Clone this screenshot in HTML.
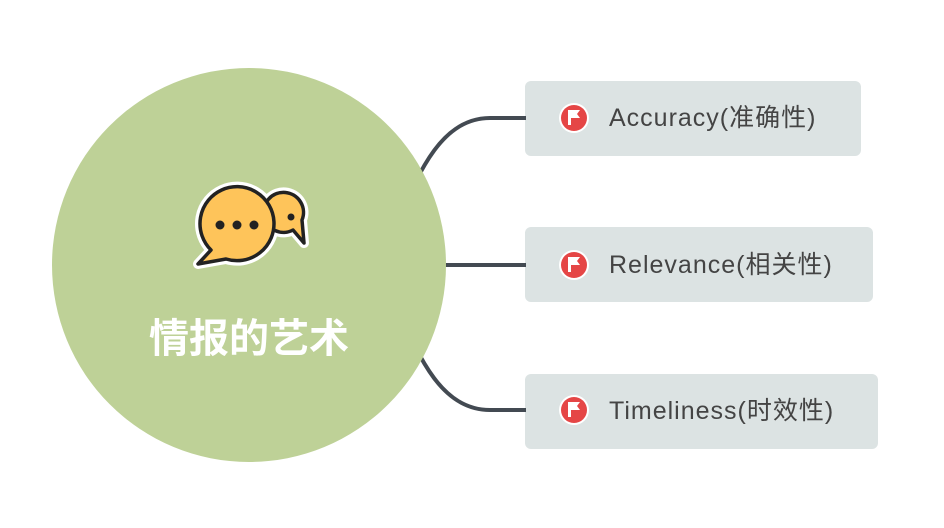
<!DOCTYPE html>
<html><head><meta charset="utf-8"><style>
html,body{margin:0;padding:0;background:#fff;}
body{width:944px;height:528px;position:relative;overflow:hidden;font-family:"Liberation Sans","Noto Sans CJK SC",sans-serif;}
.box{position:absolute;left:525px;height:75px;background:#dce3e3;border-radius:6px;}
.lbl{position:absolute;left:609px;font-size:25px;letter-spacing:1px;color:#444;line-height:30px;white-space:nowrap;}
.title{position:absolute;left:100px;width:298px;top:315px;text-align:center;color:#fff;font-size:40px;font-weight:bold;line-height:48px;}
</style></head><body>
<div class="box" style="top:81px;width:336px"></div>
<div class="box" style="top:227px;width:348px"></div>
<div class="box" style="top:374px;width:353px"></div>
<svg width="944" height="528" style="position:absolute;left:0;top:0">
<g fill="none" stroke="#434a52" stroke-width="4">
<path d="M380 260 C410 200 430 118 490 118 L526 118"/>
<path d="M400 265 L526 265"/>
<path d="M380 270 C410 330 430 410 490 410 L526 410"/>
</g>
<circle cx="249" cy="265" r="197" fill="#bed197"/>
<g stroke="#fff" stroke-width="10" stroke-linejoin="round" fill="#fff">
<path d="M302 220 L304 243 L293 230 A20 20 0 1 1 302 220Z"/>
<path d="M211 250 L198 264 L226 259 A37 37 0 1 0 211 250Z"/>
</g>
<g stroke="#222" stroke-width="3.5" stroke-linejoin="round" fill="#fec45a">
<path d="M302 220 L304 243 L293 230 A20 20 0 1 1 302 220Z"/>
<path d="M211 250 L198 264 L226 259 A37 37 0 1 0 211 250Z"/>
</g>
<g fill="#222"><circle cx="220" cy="225" r="4.5"/><circle cx="237" cy="225" r="4.5"/><circle cx="254" cy="225" r="4.5"/><circle cx="291" cy="217" r="3.5"/></g>
<g id="f">
<circle cx="574" cy="118" r="15" fill="#fff"/><circle cx="574" cy="118" r="13" fill="#e54646"/>
<path d="M568 110 h12 l-3 4 3 4 h-9 v7 h-3z" fill="#fff"/>
</g>
<use href="#f" y="147"/>
<use href="#f" y="292"/>
</svg>
<div class="title">情报的艺术</div>
<div class="lbl" style="top:103px">Accuracy(准确性)</div>
<div class="lbl" style="top:250px">Relevance(相关性)</div>
<div class="lbl" style="top:396px">Timeliness(时效性)</div>
</body></html>
